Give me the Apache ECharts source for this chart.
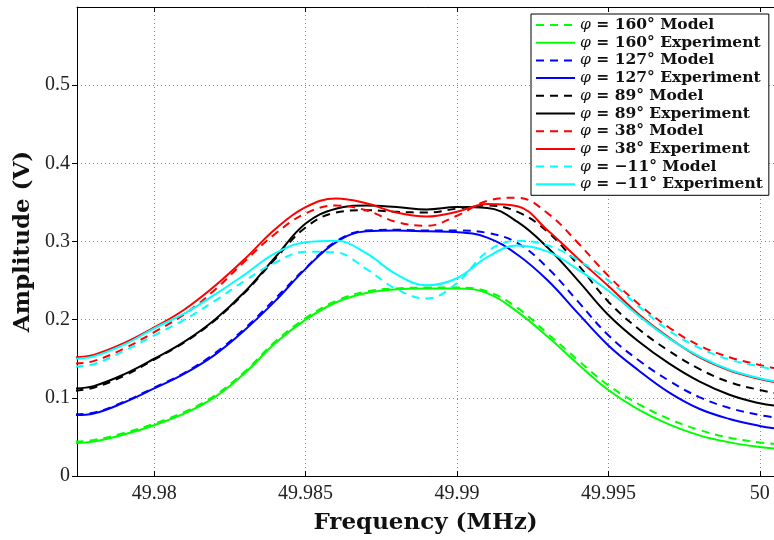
<!DOCTYPE html>
<html>
<head>
<meta charset="utf-8">
<script src="https://cdn.jsdelivr.net/npm/echarts@6/dist/echarts.min.js"></script>
<style>
  html, body { margin: 0; padding: 0; background: #fff; }
  #chart { width: 774px; height: 540px; }
</style>
</head>
<body>
<div id="chart"></div>
<script>
// frequency samples (MHz)
const freqs = [49.9774, 49.978, 49.979, 49.98, 49.981, 49.982, 49.983, 49.984, 49.985, 49.986,
  49.987, 49.988, 49.989, 49.99, 49.991, 49.992, 49.993, 49.994, 49.995, 49.996,
  49.997, 49.998, 49.999, 50, 50.0005]
const xTicks = [49.98, 49.985, 49.99, 49.995, 50]
const phis = ['160', '127', '89', '38', '−11']
const colors = ['#00ff00', '#0000ff', '#000000', '#ff0000', '#00ffff']

// amplitudes (V), model (dashed) and experiment (solid)
const model160 = [0.044, 0.046, 0.055, 0.067, 0.082, 0.103, 0.134, 0.172, 0.202, 0.224,
  0.236, 0.240, 0.241, 0.241, 0.236, 0.215, 0.182, 0.148, 0.116, 0.092,
  0.073, 0.059, 0.049, 0.043, 0.041]
const exp160 = [0.042, 0.044, 0.053, 0.065, 0.080, 0.101, 0.132, 0.170, 0.200, 0.222,
  0.234, 0.239, 0.240, 0.240, 0.234, 0.210, 0.178, 0.143, 0.110, 0.085,
  0.066, 0.052, 0.043, 0.037, 0.035]
const model127 = [0.079, 0.081, 0.095, 0.113, 0.132, 0.157, 0.189, 0.227, 0.266, 0.300,
  0.314, 0.315, 0.314, 0.314, 0.311, 0.298, 0.266, 0.223, 0.180, 0.148,
  0.122, 0.101, 0.087, 0.078, 0.075]
const exp127 = [0.078, 0.080, 0.094, 0.112, 0.131, 0.155, 0.187, 0.224, 0.265, 0.299,
  0.313, 0.314, 0.313, 0.312, 0.305, 0.283, 0.250, 0.208, 0.167, 0.135,
  0.107, 0.086, 0.073, 0.064, 0.061]
const model89 = [0.109, 0.113, 0.128, 0.149, 0.171, 0.199, 0.235, 0.278, 0.318, 0.337,
  0.340, 0.338, 0.337, 0.342, 0.346, 0.338, 0.312, 0.270, 0.223, 0.188,
  0.160, 0.137, 0.120, 0.110, 0.106]
const exp89 = [0.112, 0.115, 0.130, 0.150, 0.172, 0.200, 0.236, 0.280, 0.323, 0.342,
  0.346, 0.344, 0.341, 0.344, 0.343, 0.325, 0.292, 0.250, 0.206, 0.172,
  0.144, 0.121, 0.104, 0.093, 0.090]
const model38 = [0.144, 0.147, 0.163, 0.184, 0.207, 0.238, 0.275, 0.310, 0.336, 0.346,
  0.340, 0.325, 0.320, 0.333, 0.352, 0.356, 0.336, 0.298, 0.256, 0.220,
  0.190, 0.167, 0.152, 0.142, 0.138]
const exp38 = [0.152, 0.155, 0.170, 0.190, 0.213, 0.243, 0.278, 0.316, 0.344, 0.355,
  0.349, 0.337, 0.332, 0.338, 0.348, 0.345, 0.314, 0.278, 0.243, 0.207,
  0.177, 0.152, 0.135, 0.124, 0.120]
const modelM11 = [0.140, 0.143, 0.160, 0.180, 0.200, 0.224, 0.250, 0.273, 0.287, 0.286,
  0.265, 0.239, 0.227, 0.247, 0.287, 0.301, 0.295, 0.276, 0.250, 0.217,
  0.186, 0.164, 0.149, 0.140, 0.136]
const expM11 = [0.150, 0.153, 0.168, 0.189, 0.208, 0.232, 0.258, 0.285, 0.299, 0.301,
  0.285, 0.258, 0.244, 0.253, 0.280, 0.295, 0.287, 0.264, 0.237, 0.205,
  0.176, 0.153, 0.136, 0.125, 0.121]

const modelSets = [model160, model127, model89, model38, modelM11]
const expSets = [exp160, exp127, exp89, exp38, expM11]

const chart = echarts.init(document.getElementById('chart'))

const series = []
phis.forEach((p, i) => {
  ;[['Model', modelSets[i], [8, 6]], ['Experiment', expSets[i], 'solid']].forEach(([kind, vals, type]) => {
    series.push({
      name: 'φ = ' + p + '° ' + kind,
      type: 'line',
      smooth: 0.4,
      symbol: 'none',
      color: colors[i],
      lineStyle: { width: 2, type: type, color: colors[i] },
      data: freqs.map((f, k) => [f, vals[k]])
    })
  })
})

const serif = 'Liberation Serif'
const xmin = 49.97745, xmax = 50.00047

chart.setOption({
  animation: false,
  backgroundColor: '#fff',
  grid: { left: 77, right: 0, top: 7, bottom: 64 },
  legend: {
    orient: 'vertical',
    left: 531,
    top: 14,
    padding: [3, 6, 3, 4],
    itemGap: 1.7,
    itemWidth: 39,
    itemHeight: 14,
    backgroundColor: '#fff',
    borderColor: '#000',
    borderWidth: 1,
    itemStyle: { opacity: 0 },
    data: series.map(s => s.name),
    formatter: name => '{p|φ}' + name.slice(1),
    textStyle: {
      fontFamily: 'DejaVu Serif',
      fontWeight: 'bold',
      fontSize: 15.5,
      color: '#111',
      rich: {
        p: { fontFamily: 'DejaVu Serif', fontStyle: 'italic', fontWeight: 'normal', fontSize: 15.5, color: '#111' }
      }
    }
  },
  xAxis: [{
    type: 'value',
    min: xmin,
    max: xmax,
    name: 'Frequency (MHz)',
    nameLocation: 'middle',
    nameGap: 36,
    nameTextStyle: { fontFamily: 'DejaVu Serif', fontWeight: 'bold', fontSize: 23, color: '#111' },
    axisLine: { lineStyle: { color: '#000', width: 1 } },
    axisTick: { inside: true, length: 5, lineStyle: { color: '#000' }, customValues: xTicks },
    axisLabel: {
      customValues: xTicks,
      fontFamily: serif, fontSize: 20, color: '#222', margin: 8,
      formatter: v => String(+(+v).toFixed(3))
    },
    splitLine: { show: true, lineStyle: { color: '#888', type: [1, 3] } }
  }, {
    type: 'value',
    position: 'top',
    min: xmin,
    max: xmax,
    axisLine: { lineStyle: { color: '#000', width: 1 } },
    axisTick: { inside: true, length: 5, lineStyle: { color: '#000' }, customValues: xTicks },
    axisLabel: { show: false },
    splitLine: { show: false }
  }],
  yAxis: {
    type: 'value',
    min: 0,
    max: 0.6,
    interval: 0.1,
    name: 'Amplitude (V)',
    nameLocation: 'middle',
    nameGap: 29,
    nameTextStyle: { fontFamily: 'DejaVu Serif', fontWeight: 'bold', fontSize: 23, color: '#111' },
    axisLine: { show: true, lineStyle: { color: '#000', width: 1 } },
    axisTick: { show: true, length: 5, lineStyle: { color: '#000' } },
    axisLabel: {
      fontFamily: serif, fontSize: 20, color: '#222', margin: 7,
      showMaxLabel: false,
      formatter: v => String(+(+v).toFixed(1))
    },
    splitLine: { show: true, lineStyle: { color: '#888', type: [1, 3] } }
  },
  series: series
})
</script>
</body>
</html>
